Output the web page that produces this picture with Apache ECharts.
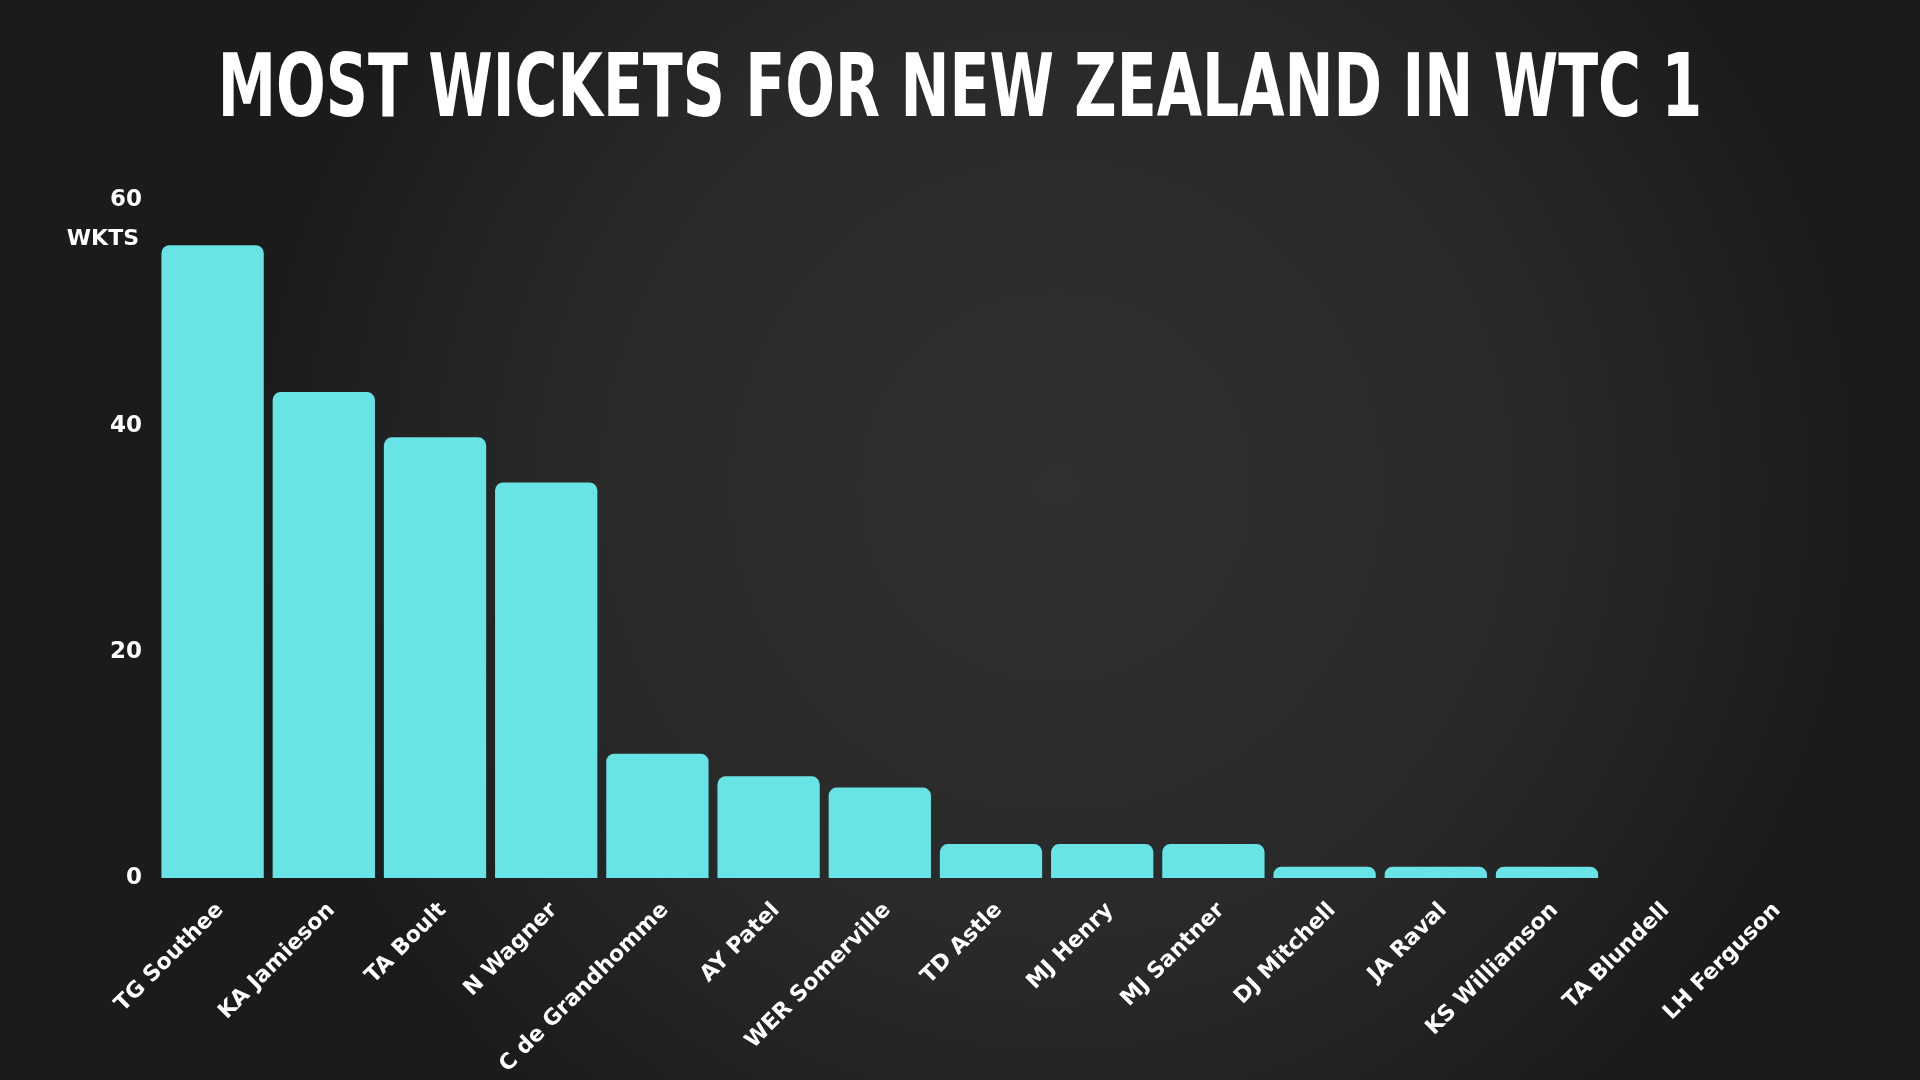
<!DOCTYPE html>
<html>
<head>
<meta charset="utf-8">
<script src="https://cdn.jsdelivr.net/npm/echarts@6/dist/echarts.min.js"></script>
<style>
html,body{margin:0;padding:0;width:1920px;height:1080px;overflow:hidden;background:#262626;}
#chart{width:1920px;height:1080px;}
</style>
</head>
<body>
<div id="chart"></div>
<script>
const titleText = 'MOST WICKETS FOR NEW ZEALAND IN WTC 1';
const yAxisName = 'WKTS';
const players = ['TG Southee','KA Jamieson','TA Boult','N Wagner','C de Grandhomme','AY Patel','WER Somerville','TD Astle','MJ Henry','MJ Santner','DJ Mitchell','JA Raval','KS Williamson','TA Blundell','LH Ferguson'];
const wickets = [56, 43, 39, 35, 11, 9, 8, 3, 3, 3, 1, 1, 1, 0, 0];
const yTicks = [0, 20, 40, 60];

const chart = echarts.init(document.getElementById('chart'));
chart.setOption({
  backgroundColor: {
    type: 'radial', x: 0.55, y: 0.45, r: 0.75,
    colorStops: [
      {offset: 0, color: '#303030'},
      {offset: 0.6, color: '#292929'},
      {offset: 1, color: '#1b1b1b'}
    ]
  },
  graphic: [{
    type: 'text',
    x: 960,
    y: 93,
    scaleX: 0.665,
    style: {
      text: titleText,
      fill: '#ffffff',
      font: "bold 88px 'DejaVu Sans', sans-serif",
      textAlign: 'center',
      textVerticalAlign: 'middle'
    }
  }],
  grid: {left: 157, right: 95, top: 200, bottom: 202},
  xAxis: {
    type: 'category',
    data: players,
    axisLine: {show: false},
    axisTick: {show: false},
    axisLabel: {
      interval: 0,
      rotate: 45,
      margin: 21,
      verticalAlign: 'top',
      color: '#ffffff',
      fontFamily: "'DejaVu Sans', sans-serif",
      fontWeight: 'bold',
      fontSize: 22
    }
  },
  yAxis: {
    type: 'value',
    min: yTicks[0],
    max: yTicks[yTicks.length - 1],
    interval: 20,
    name: yAxisName,
    nameLocation: 'end',
    nameGap: -50,
    nameTextStyle: {
      color: '#ffffff',
      fontFamily: "'DejaVu Sans', sans-serif",
      fontWeight: 'bold',
      fontSize: 22,
      align: 'right',
      padding: [0, 18, 0, 0]
    },
    splitLine: {show: false},
    axisLine: {show: false},
    axisTick: {show: false},
    axisLabel: {
      margin: 15,
      color: '#ffffff',
      fontFamily: "'DejaVu Sans', sans-serif",
      fontWeight: 'bold',
      fontSize: 23
    }
  },
  series: [{
    type: 'bar',
    data: wickets,
    barCategoryGap: '8%',
    itemStyle: {color: '#68E4E6', borderRadius: [8, 8, 0, 0]}
  }]
});
</script>
</body>
</html>
